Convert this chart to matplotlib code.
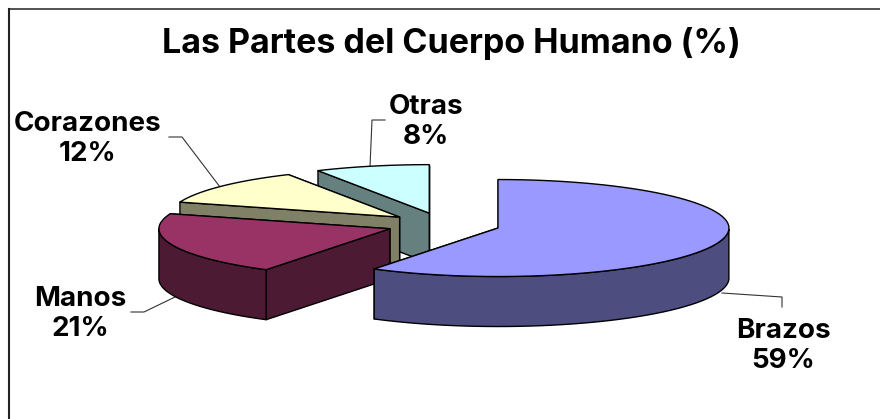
import matplotlib
matplotlib.use("Agg")
import matplotlib.pyplot as plt
import numpy as np
from matplotlib.patches import Polygon

plt.rcParams["font.family"] = ["Inter", "Liberation Sans", "DejaVu Sans"]

TITLE = "Las Partes del Cuerpo Humano (%)"
labels = ["Brazos", "Manos", "Corazones", "Otras"]
values = [59, 21, 12, 8]
top_colors = ["#9999FF", "#993366", "#FFFFCC", "#CCFFFF"]
side_colors = ["#4D4D80", "#4D1A33", "#808066", "#668080"]

# pie projection, in pixels
CX, CY = 443.4, 224.7
RX, RY = 231, 48.5
DEPTH = 50
EXPLODE = 0.246


def ring(cx, cy, a0, a1, n=80):
    t = np.radians(np.linspace(a0, a1, n))
    return np.column_stack([cx + RX * np.cos(t), cy - RY * np.sin(t)])


def draw_slice(ax, a_start, a_end, top, side, z):
    """a_start > a_end, clockwise from a_start, degrees."""
    mid = np.radians((a_start + a_end) / 2)
    cx = CX + EXPLODE * RX * np.cos(mid)
    cy = CY - EXPLODE * RY * np.sin(mid)
    arc = ring(cx, cy, a_start, a_end)
    apex = np.array([cx, cy])
    down = np.array([0, DEPTH])
    style = dict(edgecolor="black", linewidth=1.0, joinstyle="round", zorder=z)

    # radial walls, the one nearer the viewer goes last
    ends = sorted([arc[0], arc[-1]], key=lambda p: p[1])
    for p in ends:
        ax.add_patch(Polygon([apex, p, p + down, apex + down], facecolor=side, **style))

    # outer wall, only the front half of the ellipse shows
    sines = np.sin(np.radians(np.linspace(a_start, a_end, len(arc))))
    front = arc[sines <= 0]
    if len(front) > 1:
        ax.add_patch(Polygon(np.vstack([front, front[::-1] + down]), facecolor=side, **style))

    ax.add_patch(Polygon(np.vstack([apex, arc]), facecolor=top, **style))


fig = plt.figure(figsize=(8.8, 4.19), dpi=100)
ax = fig.add_axes([0, 0, 1, 1])
ax.set_xlim(0, 880)
ax.set_ylim(419, 0)
ax.axis("off")

# frame runs off the right and bottom of the picture
ax.plot([9, 9], [419, 9], color="#222222", lw=1.5, zorder=1, solid_capstyle="projecting")
ax.plot([9, 880], [9.5, 9.5], color="#222222", lw=1.1, zorder=1)

# slices start at 12 o'clock and go clockwise
edges = 90 - np.cumsum([0] + values) * 3.6
slices = list(zip(edges[:-1], edges[1:], top_colors, side_colors))
for z, i in enumerate(range(len(slices) - 1, -1, -1)):
    a0, a1, top, side = slices[i]
    draw_slice(ax, a0, a1, top, side, 2 + z)

# leader lines
leaders = [
    ([722, 782, 782], [293, 297, 307]),
    ([175, 144, 131], [297, 312, 312]),
    ([220, 182, 169], [187, 137, 137]),
    ([370, 372, 385], [167, 120, 120]),
]
for xs, ys in leaders:
    ax.plot(xs, ys, color="#333333", lw=0.8, zorder=1)

ax.text(451.5, 44, TITLE, ha="center", va="center", fontsize=24.5, fontweight="bold")

label_pos = [(783, 346), (80, 314), (88, 139), (426, 122)]
for (x, y), name, val in zip(label_pos, labels, values):
    ax.text(x, y, f"{name}\n{val}%", ha="center", va="center", fontsize=20,
            fontweight="bold", linespacing=1.17, zorder=10)

fig.savefig("out.png", dpi=100)
